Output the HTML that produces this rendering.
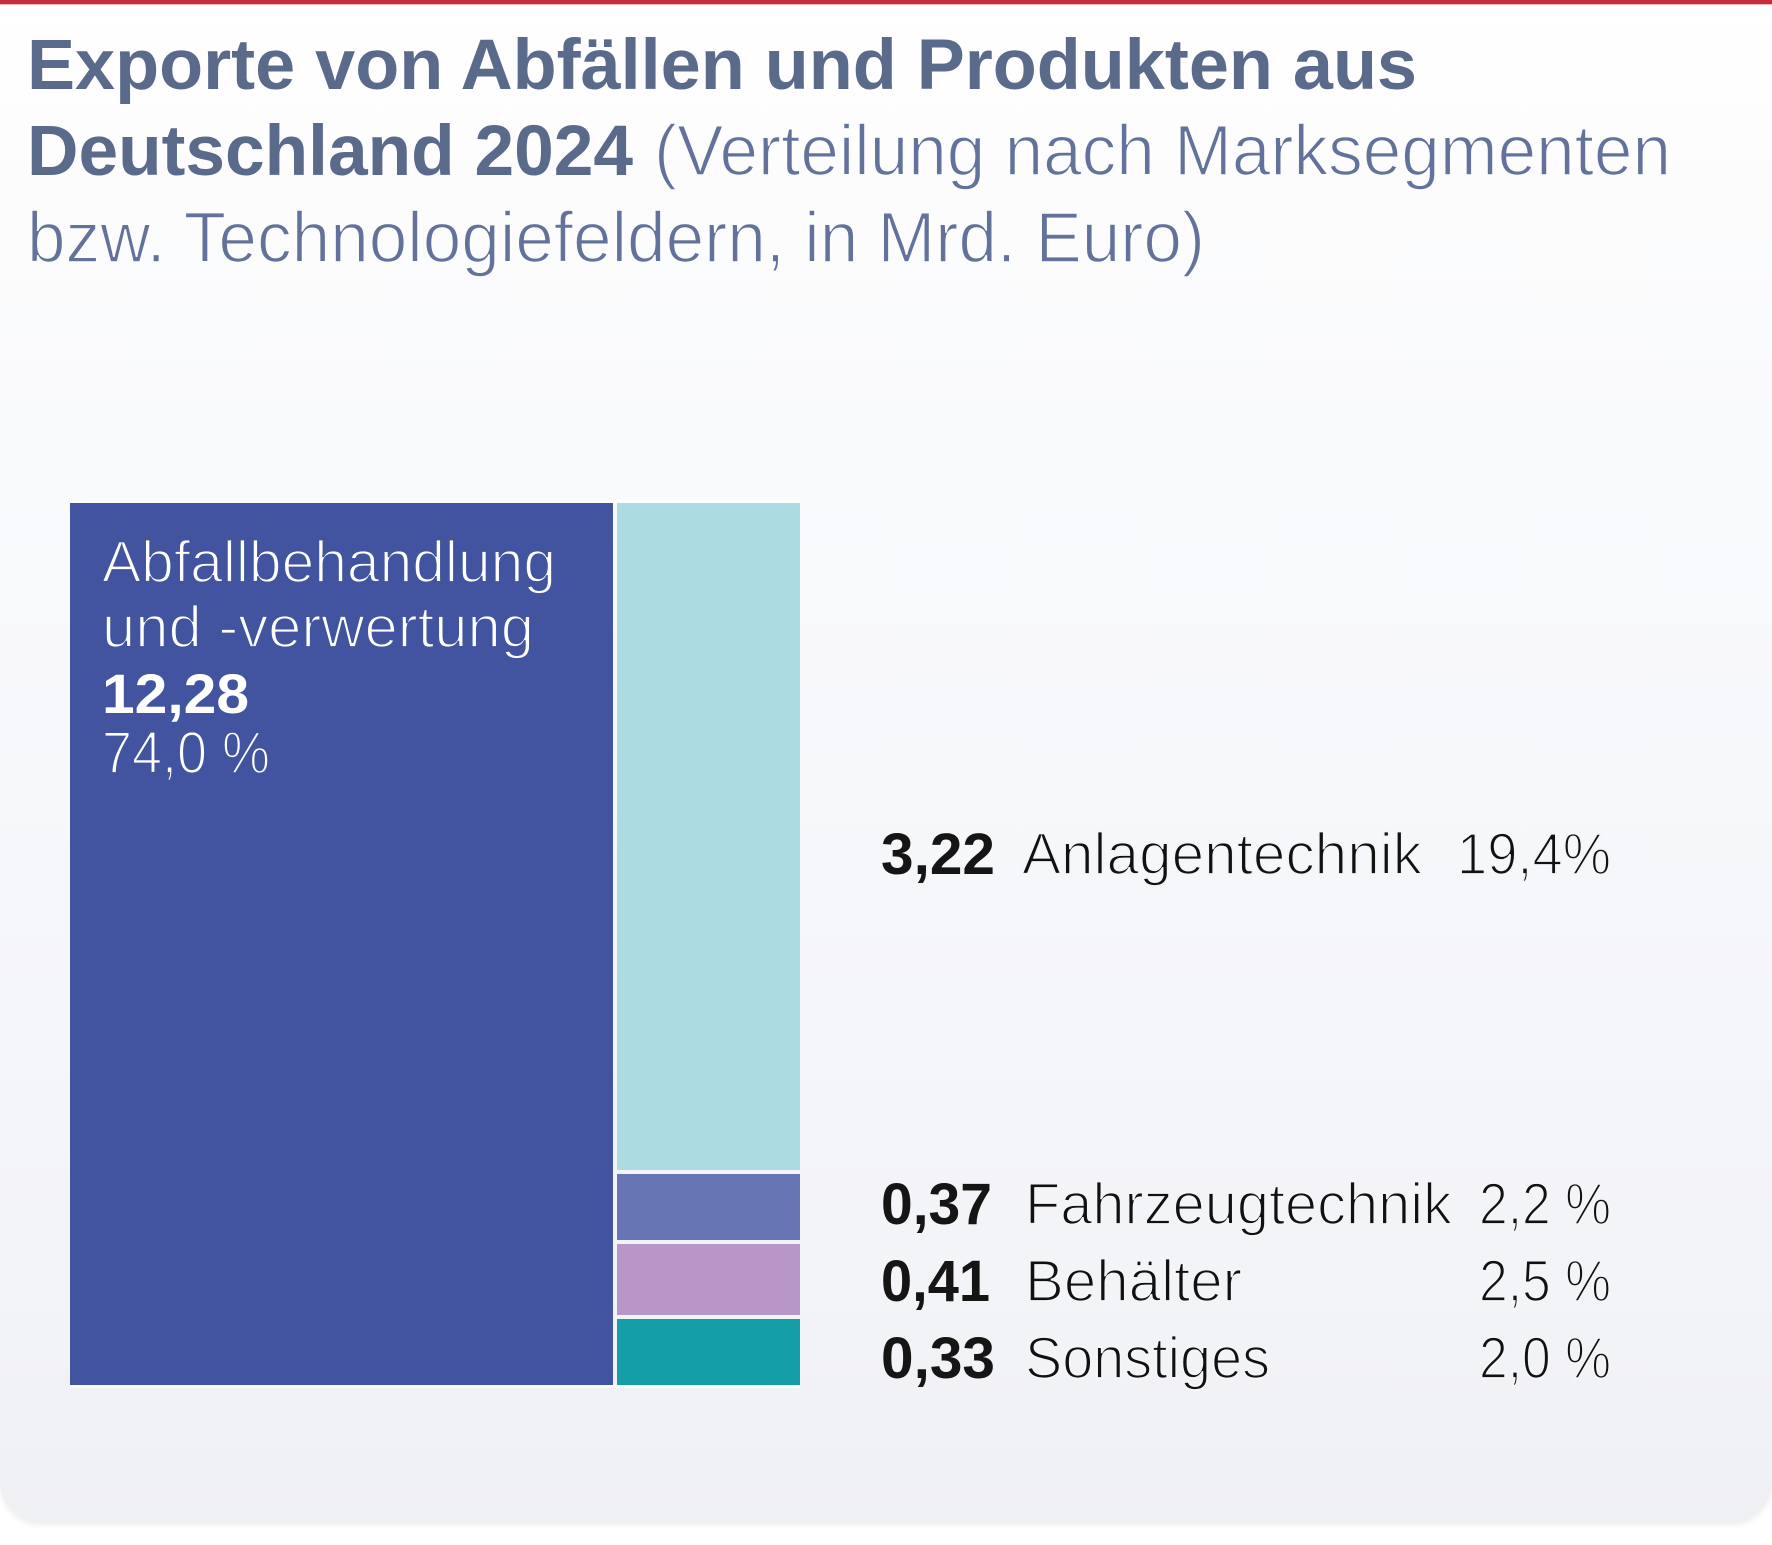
<!DOCTYPE html>
<html>
<head>
<meta charset="utf-8">
<style>
  html, body { margin:0; padding:0; background:#ffffff; }
  body { width:1772px; height:1545px; position:relative; overflow:hidden; }
  .card {
    position:absolute; left:0; top:0; width:1772px; height:1522px;
    border-radius:0 0 40px 40px;
    background: linear-gradient(to bottom, #ffffff 0px, #fcfcfd 200px, #f9fafc 420px, #f6f7fa 900px, #f2f3f7 1350px, #eff0f4 1522px);
    box-shadow: 0 3px 6px rgba(0,0,0,0.07);
  }
  .redline { position:absolute; left:0; top:0; width:1772px; height:4px; background:#c92a3e; }
  .redline2 { position:absolute; left:0; top:4px; width:1772px; height:1px; background:#ecb7bd; }
  svg { position:absolute; left:0; top:0; }
  text { font-family: "Liberation Sans", "DejaVu Sans", sans-serif; }
  .thinT { stroke:#fcfcfd; stroke-width:1.6px; paint-order:normal; }
  .thinW { stroke:#42549f; stroke-width:1.8px; }
  .thinK { stroke:#f4f5f8; stroke-width:1.8px; }
</style>
</head>
<body>
<div class="card"></div>
<div class="redline"></div>
<div class="redline2"></div>
<svg width="1772" height="1545" viewBox="0 0 1772 1545" xmlns="http://www.w3.org/2000/svg">
  <!-- Title -->
  <text x="27" y="89" font-size="71" font-weight="bold" fill="#5a6a8b" textLength="1390" lengthAdjust="spacingAndGlyphs">Exporte von Abfällen und Produkten aus</text>
  <text x="27" y="175" font-size="71" font-weight="bold" fill="#5a6a8b" textLength="606" lengthAdjust="spacingAndGlyphs">Deutschland 2024</text>
  <text class="thinT" x="654" y="175" font-size="71" fill="#62729a" textLength="1017" lengthAdjust="spacingAndGlyphs">(Verteilung nach Marksegmenten</text>
  <text class="thinT" x="27" y="262" font-size="71" fill="#62729a" textLength="1178" lengthAdjust="spacingAndGlyphs">bzw. Technologiefeldern, in Mrd. Euro)</text>

  <!-- Treemap -->
  <rect x="70" y="500" width="730" height="3" fill="#ffffff"/>
  <rect x="70" y="503" width="543" height="882" fill="#42549f"/>
  <rect x="617" y="503" width="183" height="667" fill="#acdbe2"/>
  <rect x="617" y="1174" width="183" height="66" fill="#6775b5"/>
  <rect x="617" y="1244" width="183" height="71" fill="#b797c8"/>
  <rect x="617" y="1319" width="183" height="66" fill="#139ea8"/>
  <rect x="70" y="1385" width="730" height="3" fill="#ffffff" opacity="0.7"/>

  <!-- Label inside big block -->
  <text class="thinW" x="102" y="582" font-size="58" fill="#ffffff" textLength="454" lengthAdjust="spacingAndGlyphs">Abfallbehandlung</text>
  <text class="thinW" x="102" y="647" font-size="58" fill="#ffffff" textLength="432" lengthAdjust="spacingAndGlyphs">und -verwertung</text>
  <text x="102" y="713" font-size="56" font-weight="bold" fill="#ffffff" textLength="147" lengthAdjust="spacingAndGlyphs">12,28</text>
  <text class="thinW" x="102" y="773" font-size="59" fill="#ffffff" textLength="168" lengthAdjust="spacingAndGlyphs">74,0 %</text>

  <!-- Right labels -->
  <g fill="#151515">
    <text x="881" y="874" font-size="58" font-weight="bold" textLength="114" lengthAdjust="spacingAndGlyphs">3,22</text>
    <text class="thinK" x="1022" y="874" font-size="58" fill="#111111" textLength="400" lengthAdjust="spacingAndGlyphs">Anlagentechnik</text>
    <text class="thinK" x="1457" y="874" font-size="58" fill="#111111" textLength="154" lengthAdjust="spacingAndGlyphs">19,4%</text>

    <text x="881" y="1224" font-size="58" font-weight="bold" textLength="111" lengthAdjust="spacingAndGlyphs">0,37</text>
    <text class="thinK" x="1025" y="1224" font-size="58" fill="#111111" textLength="427" lengthAdjust="spacingAndGlyphs">Fahrzeugtechnik</text>
    <text class="thinK" x="1479" y="1224" font-size="58" fill="#111111" textLength="132" lengthAdjust="spacingAndGlyphs">2,2 %</text>

    <text x="881" y="1301" font-size="58" font-weight="bold" textLength="109" lengthAdjust="spacingAndGlyphs">0,41</text>
    <text class="thinK" x="1025" y="1301" font-size="58" fill="#111111" textLength="217" lengthAdjust="spacingAndGlyphs">Behälter</text>
    <text class="thinK" x="1479" y="1301" font-size="58" fill="#111111" textLength="132" lengthAdjust="spacingAndGlyphs">2,5 %</text>

    <text x="881" y="1378" font-size="58" font-weight="bold" textLength="114" lengthAdjust="spacingAndGlyphs">0,33</text>
    <text class="thinK" x="1025" y="1378" font-size="58" fill="#111111" textLength="245" lengthAdjust="spacingAndGlyphs">Sonstiges</text>
    <text class="thinK" x="1479" y="1378" font-size="58" fill="#111111" textLength="132" lengthAdjust="spacingAndGlyphs">2,0 %</text>
  </g>
</svg>
</body>
</html>
